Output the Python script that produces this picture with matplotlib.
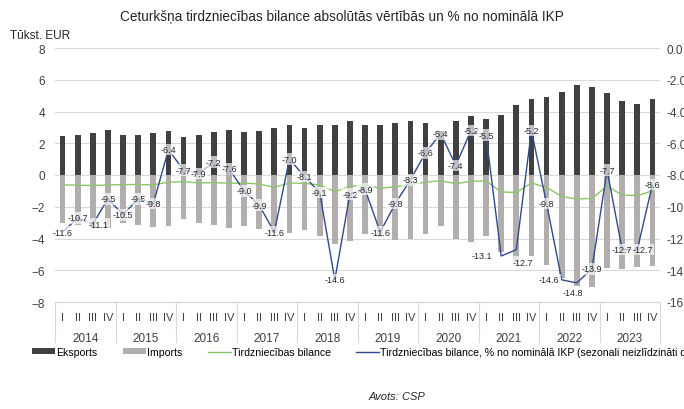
"""Ceturksna tirdzniecibas bilance: eksports, imports, bilance un % no IKP."""
import matplotlib

matplotlib.use("Agg")
import matplotlib.pyplot as plt
import numpy as np
from matplotlib.lines import Line2D
from matplotlib.patches import Patch

plt.rcParams["font.family"] = ["Liberation Sans", "DejaVu Sans"]

YEARS = [str(y) for y in range(2014, 2024)]
QUARTERS = ["I", "II", "III", "IV"]

exports = [2.44, 2.50, 2.65, 2.84, 2.50, 2.55, 2.65, 2.78, 2.40, 2.55, 2.70, 2.84,
           2.74, 2.78, 2.93, 3.18, 2.99, 3.18, 3.18, 3.43, 3.14, 3.14, 3.28, 3.39,
           3.28, 2.76, 3.42, 3.70, 3.53, 3.78, 4.40, 4.76, 4.90, 5.20, 5.68, 5.54,
           5.17, 4.65, 4.46, 4.80]
imports = [-3.03, -3.14, -3.26, -3.37, -3.05, -3.14, -3.28, -3.24, -2.80, -3.03, -3.12, -3.33,
           -3.24, -3.43, -3.68, -3.68, -3.49, -3.83, -4.32, -4.15, -3.73, -3.92, -4.08, -4.04,
           -3.73, -3.24, -4.02, -4.20, -3.87, -4.86, -5.45, -5.10, -5.68, -6.50, -7.00, -7.05,
           -5.83, -5.90, -5.78, -5.72]
balance = [-0.62, -0.64, -0.66, -0.63, -0.60, -0.60, -0.62, -0.45, -0.42, -0.50, -0.48, -0.52,
           -0.50, -0.57, -0.78, -0.50, -0.53, -0.63, -1.05, -0.72, -0.63, -0.84, -0.74, -0.60,
           -0.45, -0.36, -0.55, -0.40, -0.38, -1.07, -1.10, -0.50, -0.78, -1.35, -1.52, -1.47,
           -0.70, -1.26, -1.30, -1.00]
pct_gdp = [-11.6, -10.7, -11.1, -9.5, -10.5, -9.5, -9.8, -6.4, -7.7, -7.9, -7.2, -7.6,
           -9.0, -9.9, -11.6, -7.0, -8.1, -9.1, -14.6, -9.2, -8.9, -11.6, -9.8, -8.3,
           -6.6, -5.4, -7.4, -5.2, -5.5, -13.1, -12.7, -5.2, -9.8, -14.6, -14.8, -13.9,
           -7.7, -12.7, -12.7, -8.6]

# label nudges in points (index -> dx, dy)
LABEL_NUDGE = {2: (4, 0), 29: (-14, 0), 30: (5, -9), 33: (-9, 0), 34: (-3, -7), 38: (4, 0)}

C_EXP = "#404040"
C_IMP = "#b3aeae"
C_BAL = "#8cc56a"
C_PCT = "#2f4b8c"
C_GRID = "#d9d9d9"
C_TEXT = "#404040"

fig = plt.figure(figsize=(6.84, 4.10), dpi=100)
ax = fig.add_axes([55 / 684, 1 - 303 / 410, 605 / 684, 254 / 410])
ax2 = ax.twinx()

x = np.arange(len(exports))
ax.bar(x, exports, width=0.38, color=C_EXP, zorder=2)
ax.bar(x, imports, width=0.38, color=C_IMP, zorder=2)
ax.plot(x, balance, color=C_BAL, lw=1.0, zorder=3)

ax2.plot(x, pct_gdp, color=C_PCT, lw=1.0, zorder=4)
for i, v in enumerate(pct_gdp):
    dx, dy = LABEL_NUDGE.get(i, (0, 0))
    ax2.annotate(f"{v:.1f}", (i, v), xytext=(dx, dy), textcoords="offset points",
                 ha="center", va="center", fontsize=6.5, color="#262626", zorder=5,
                 bbox=dict(boxstyle="square,pad=0.15", fc="white", ec="none", alpha=0.65))

ax.set_xlim(-0.5, len(exports) - 0.5)
ax.set_ylim(-8, 8)
ax.set_yticks(np.arange(-8, 9, 2))
ax2.set_ylim(-16, 0)
ax2.set_yticks(np.arange(-16, 1, 2))
ax2.set_yticklabels([f"{t:.1f}" for t in np.arange(-16, 1, 2)])

ax.grid(axis="y", color=C_GRID, lw=0.8, zorder=0)
ax.set_axisbelow(True)
for a in (ax, ax2):
    for side in ("top", "left", "right"):
        a.spines[side].set_visible(False)
    a.spines["bottom"].set_color(C_GRID)
    a.tick_params(axis="y", length=0, labelsize=8.5, labelcolor="#404040", pad=7)
ax2.tick_params(axis="y", pad=5)
ax.set_xticks([])

# two-level category axis
trans = ax.get_xaxis_transform()
for i in range(len(exports)):
    ax.text(i, -0.06, QUARTERS[i % 4], transform=trans, ha="center", va="center",
            fontsize=8, color=C_TEXT)
for k, yr in enumerate(YEARS):
    ax.text(4 * k + 1.5, -0.142, yr, transform=trans, ha="center", va="center",
            fontsize=8.5, color=C_TEXT)
for k in range(len(YEARS) + 1):
    ax.add_line(Line2D([4 * k - 0.5] * 2, [0, -0.158], transform=trans, color=C_GRID,
                       lw=0.8, clip_on=False))

fig.text(0.5, 0.958, "Ceturkšņa tirdzniecības bilance absolūtās vērtībās un % no nominālā IKP",
         ha="center", va="center", fontsize=9.8, color="#262626")
fig.text(10 / 684, 1 - 36 / 410, "Tūkst. EUR", ha="left", va="center", fontsize=8.5,
         color="#262626")
fig.text(397 / 684, 1 - 397 / 410, "Avots: CSP", ha="center", va="center", fontsize=8,
         style="italic", color="#262626")

handles = [
    Patch(facecolor=C_EXP),
    Patch(facecolor=C_IMP),
    Line2D([], [], color=C_BAL, lw=1.0),
    Line2D([], [], color=C_PCT, lw=1.0),
]
labels = ["Eksports", "Imports", "Tirdzniecības bilance",
          "Tirdzniecības bilance, % no nominālā IKP (sezonali neizlīdzināti dati)"]
fig.legend(handles, labels, loc="center left", bbox_to_anchor=(32 / 684, 1 - 353 / 410),
           ncol=4, frameon=False, fontsize=7.6, handlelength=2.2, handleheight=0.45,
           handletextpad=0.1, columnspacing=2.4, borderaxespad=0, borderpad=0)

fig.savefig("out.png", dpi=100)
